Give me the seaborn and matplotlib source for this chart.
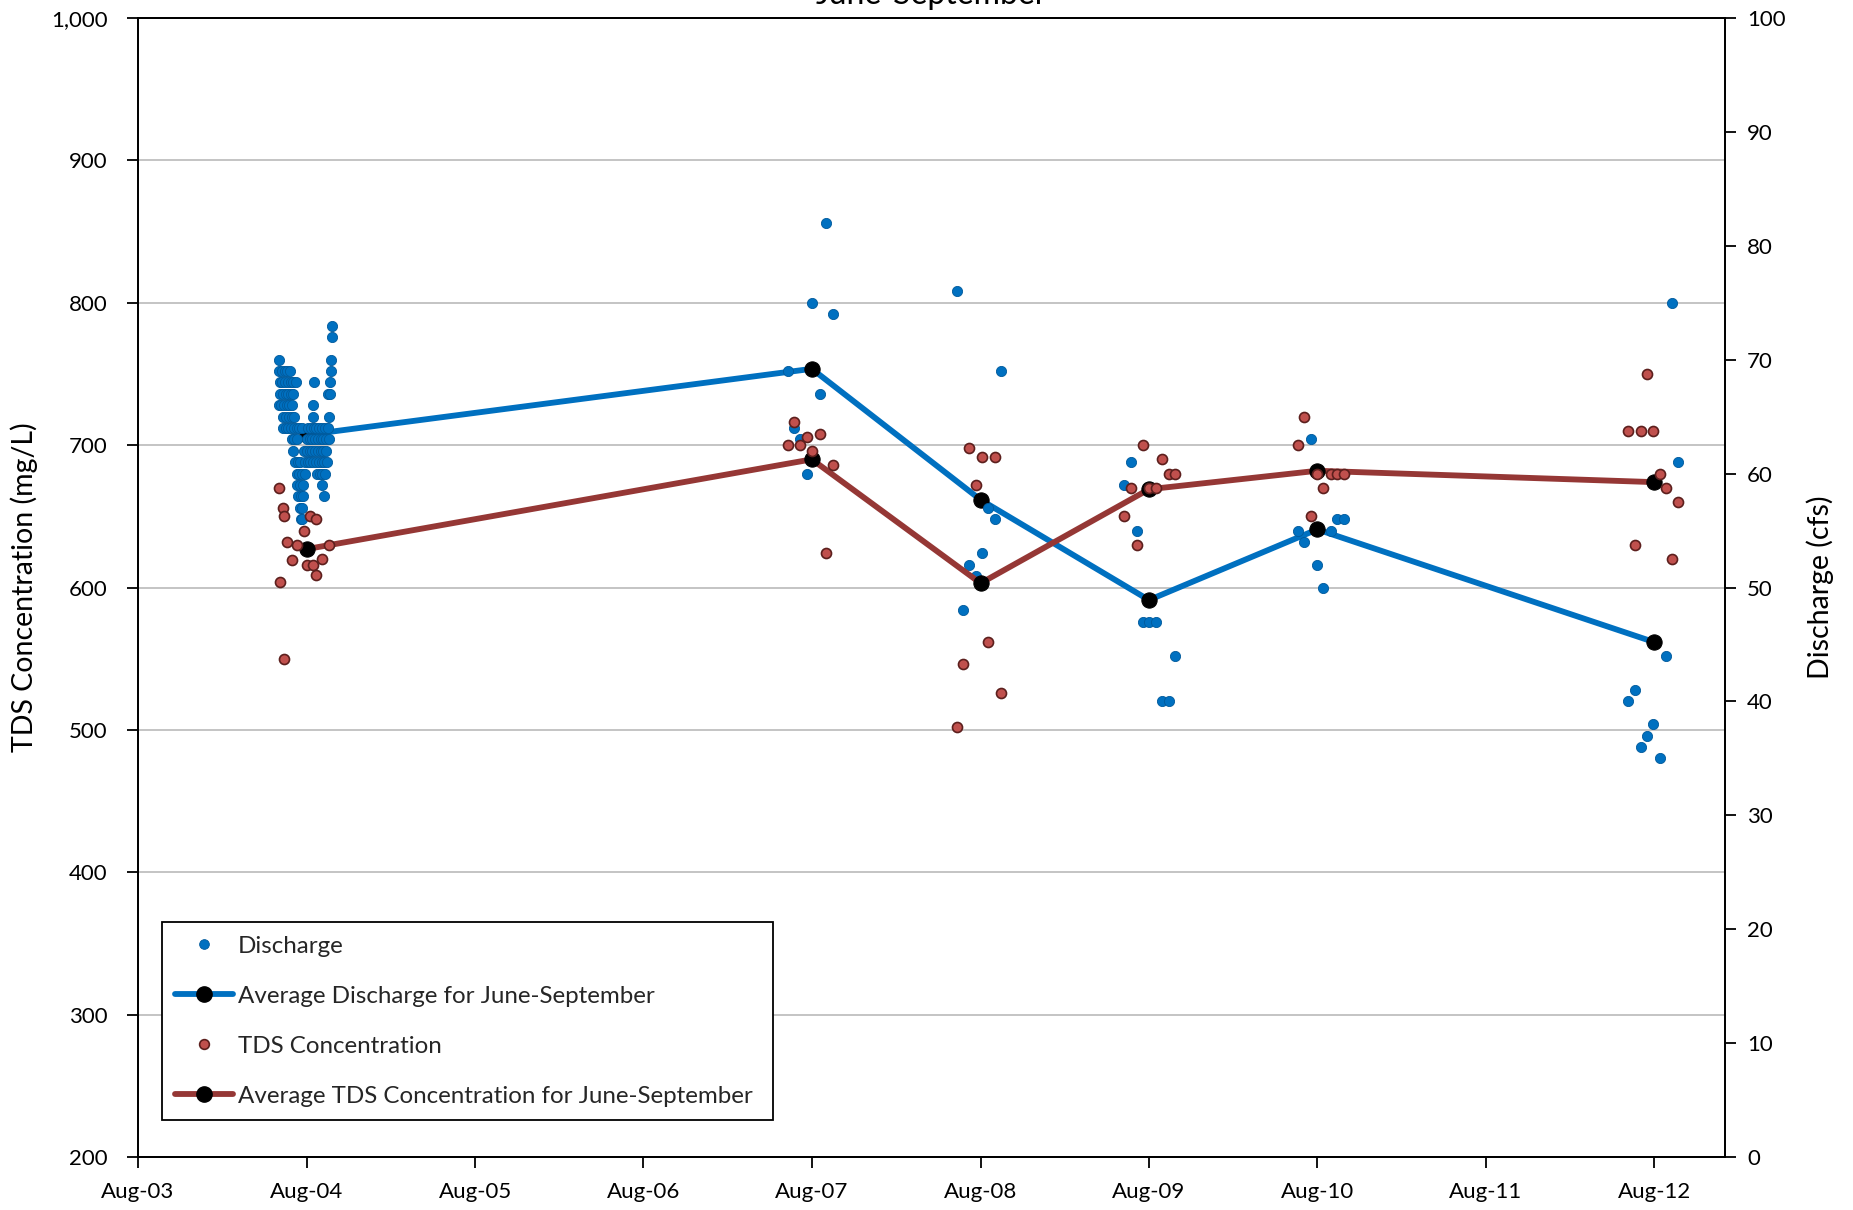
import matplotlib
matplotlib.use("Agg")
import matplotlib.pyplot as plt
import matplotlib.dates as mdates
import matplotlib.ticker as mticker
from matplotlib.lines import Line2D
import pandas as pd
import seaborn as sns

# ---------------------------------------------------------------------------
# 2004 daily discharge record (cfs), June-September
discharge_2004_dates = [
    "2004-06-01",
    "2004-06-02", "2004-06-08", "2004-06-14", "2004-06-20", "2004-06-26",
    "2004-06-03", "2004-06-09", "2004-06-15", "2004-06-21", "2004-06-27", "2004-07-03", "2004-07-08",
    "2004-06-04", "2004-06-10", "2004-06-16", "2004-06-22", "2004-06-28", "2004-07-02",
    "2004-06-01", "2004-06-06", "2004-06-12", "2004-06-18", "2004-06-24", "2004-06-30",
    "2004-06-11", "2004-06-17", "2004-06-23", "2004-06-29", "2004-07-05",
    "2004-06-10", "2004-06-16", "2004-06-22", "2004-06-28", "2004-07-04", "2004-07-10", "2004-07-16", "2004-07-21",
    "2004-06-29", "2004-07-05", "2004-07-11",
    "2004-07-02",
    "2004-07-06", "2004-07-12", "2004-07-17",
    "2004-07-10", "2004-07-16", "2004-07-22", "2004-07-28",
    "2004-07-11", "2004-07-17", "2004-07-24",
    "2004-07-13", "2004-07-19", "2004-07-24",
    "2004-07-17", "2004-07-21",
    "2004-07-19", "2004-07-22",
    "2004-09-25",
    "2004-09-24",
    "2004-09-23",
    "2004-09-22",
    "2004-08-16", "2004-09-21",
    "2004-09-17", "2004-09-21",
    "2004-08-15",
    "2004-08-14", "2004-09-18",
    "2004-08-04", "2004-08-10", "2004-08-16", "2004-08-22", "2004-08-28", "2004-09-03", "2004-09-09", "2004-09-15",
    "2004-08-01", "2004-08-07", "2004-08-13", "2004-08-19", "2004-08-25", "2004-08-31", "2004-09-06", "2004-09-12", "2004-09-18",
    "2004-07-25", "2004-08-01", "2004-08-07", "2004-08-13", "2004-08-19", "2004-08-25", "2004-08-31", "2004-09-06", "2004-09-12",
    "2004-07-28", "2004-08-03", "2004-08-09", "2004-08-15", "2004-08-21", "2004-08-27", "2004-09-02", "2004-09-08", "2004-09-14",
    "2004-08-23", "2004-08-29", "2004-09-04", "2004-09-10",
    "2004-09-04",
    "2004-09-08",
]
discharge_2004_cfs = [
    70,
    69, 69, 69, 69, 69,
    68, 68, 68, 68, 68, 68, 68,
    67, 67, 67, 67, 67, 67,
    66, 66, 66, 66, 66, 66,
    65, 65, 65, 65, 65,
    64, 64, 64, 64, 64, 64, 64, 64,
    63, 63, 63,
    62,
    61, 61, 61,
    60, 60, 60, 60,
    59, 59, 59,
    58, 58, 58,
    57, 57,
    56, 56,
    73,
    72,
    70,
    69,
    68, 68,
    67, 67,
    66,
    65, 65,
    64, 64, 64, 64, 64, 64, 64, 64,
    63, 63, 63, 63, 63, 63, 63, 63, 63,
    62, 62, 62, 62, 62, 62, 62, 62, 62,
    61, 61, 61, 61, 61, 61, 61, 61, 61,
    60, 60, 60, 60,
    59,
    58,
]

# 2004 TDS grab samples (mg/L)
tds_2004_dates = [
    "2004-06-01", "2004-06-11", "2004-06-12", "2004-08-08", "2004-08-20", "2004-07-26",
    "2004-06-20", "2004-07-11", "2004-09-18", "2004-06-29", "2004-09-04", "2004-08-01",
    "2004-08-14", "2004-08-22", "2004-06-03", "2004-06-13",
]
tds_2004_mgl = [
    670, 656, 650, 650, 648, 640,
    632, 630, 630, 619, 620, 616,
    616, 609, 604, 550,
]

# 2007-2012 paired samples: discharge and TDS measured on the same dates
sample_dates = [
    "2007-06-10", "2007-06-23", "2007-07-06", "2007-07-22", "2007-08-02", "2007-08-18", "2007-08-31", "2007-09-15",
    "2008-06-10", "2008-06-23", "2008-07-07", "2008-07-21", "2008-08-04", "2008-08-17", "2008-09-01", "2008-09-14",
    "2009-06-07", "2009-06-23", "2009-07-06", "2009-07-19", "2009-08-02", "2009-08-17", "2009-08-30", "2009-09-13", "2009-09-27",
    "2010-06-21", "2010-07-04", "2010-07-18", "2010-08-01", "2010-08-14", "2010-08-30", "2010-09-13", "2010-09-27",
    "2012-06-05", "2012-06-19", "2012-07-02", "2012-07-16", "2012-07-29", "2012-08-12", "2012-08-26", "2012-09-08", "2012-09-22",
]
sample_cfs = [
    69, 64, 63, 60, 75, 67, 82, 74,
    76, 48, 52, 51, 53, 57, 56, 69,
    59, 61, 55, 47, 47, 47, 40, 40, 44,
    55, 54, 63, 52, 50, 55, 56, 56,
    40, 41, 36, 37, 38, 35, 44, 75, 61,
]
sample_tds = [
    700, 716, 700, 706, 696, 708, 624, 686,
    502, 546, 698, 672, 692, 562, 692, 526,
    650, 670, 630, 700, 670, 670, 690, 680, 680,
    700, 720, 650, 680, 670, 680, 680, 680,
    710, 630, 710, 750, 710, 680, 670, 620, 660,
]

# June-September averages, plotted at Aug 1 of each year
avg_dates = ["2004-08-01", "2007-08-01", "2008-08-01", "2009-08-01", "2010-08-01", "2012-08-01"]
avg_discharge_cfs = [63.4, 69.2, 57.7, 48.9, 55.1, 45.2]
avg_tds_mgl = [627, 690, 603, 669, 682, 674]

# ---------------------------------------------------------------------------
assert len(discharge_2004_dates) == len(discharge_2004_cfs)
assert len(sample_dates) == len(sample_cfs) == len(sample_tds)

discharge = pd.DataFrame({
    "date": pd.to_datetime(discharge_2004_dates + sample_dates),
    "cfs": discharge_2004_cfs + sample_cfs,
})
tds = pd.DataFrame({
    "date": pd.to_datetime(tds_2004_dates + sample_dates),
    "mgl": tds_2004_mgl + sample_tds,
})
avg = pd.DataFrame({
    "date": pd.to_datetime(avg_dates),
    "cfs": avg_discharge_cfs,
    "mgl": avg_tds_mgl,
})

BLUE = "#0070C0"
BLUE_EDGE = "#005A9C"
RED_LINE = "#953735"
RED_DOT = "#C0504D"
RED_EDGE = "#5C1F1D"
GRID = "#BFBFBF"
LINE_W = 4.2
AVG_MS = 11

sns.set_theme(style="white")
plt.rcParams["font.family"] = ["Lato", "DejaVu Sans"]
plt.rcParams["axes.edgecolor"] = "black"

fig = plt.figure(figsize=(18.53, 12.10), dpi=100)
ax = fig.add_axes([0.07447, 0.0438, 0.85645, 0.94132])   # left TDS scale + grid
ax_q = ax.twinx()                                         # right discharge scale
ax_t = ax.twinx()                                         # TDS marks drawn on top

# discharge series
sns.lineplot(data=avg, x="date", y="cfs", ax=ax_q, color=BLUE, linewidth=LINE_W,
             marker="o", markersize=AVG_MS, markerfacecolor="black",
             markeredgecolor="black", zorder=2)
sns.scatterplot(data=discharge, x="date", y="cfs", ax=ax_q, color=BLUE,
                edgecolor=BLUE_EDGE, linewidth=0.6, s=54, zorder=3, legend=False)

# TDS series
sns.lineplot(data=avg, x="date", y="mgl", ax=ax_t, color=RED_LINE, linewidth=LINE_W,
             marker="o", markersize=AVG_MS, markerfacecolor="black",
             markeredgecolor="black", zorder=2)
sns.scatterplot(data=tds, x="date", y="mgl", ax=ax_t, color=RED_DOT,
                edgecolor=RED_EDGE, linewidth=1.2, s=52, zorder=3, legend=False)

# scales
ax.set_ylim(200, 1000)
ax_t.set_ylim(200, 1000)
ax_q.set_ylim(0, 100)
ax.set_xlim(pd.Timestamp("2003-08-01"), pd.Timestamp("2013-01-01"))

ax.yaxis.set_major_locator(mticker.MultipleLocator(100))
ax.yaxis.set_major_formatter(mticker.StrMethodFormatter("{x:,.0f}"))
ax_q.yaxis.set_major_locator(mticker.MultipleLocator(10))
ax.xaxis.set_major_locator(mdates.YearLocator(1, month=8, day=1))
ax.xaxis.set_major_formatter(mdates.DateFormatter("%b-%y"))

ax.yaxis.grid(True, color=GRID, linewidth=1.3)
ax.xaxis.grid(False)
ax.set_axisbelow(True)

ax_t.yaxis.set_visible(False)
for sp in ax_t.spines.values():
    sp.set_visible(False)
for a in (ax, ax_q):
    for sp in a.spines.values():
        sp.set_color("black")
        sp.set_linewidth(1.3)

ax.tick_params(axis="y", direction="out", length=8, width=1.3, pad=14,
               labelsize=16, colors="black", left=True)
ax.tick_params(axis="x", direction="out", length=8, width=1.3, pad=10,
               labelsize=16, colors="black", bottom=True)
ax_q.tick_params(axis="y", direction="out", length=8, width=1.3, pad=8,
                 labelsize=16, colors="black", right=True)

ax.set_xlabel("")
ax_t.set_xlabel("")
ax_q.set_xlabel("")
ax_t.set_ylabel("")
ax.set_ylabel("TDS Concentration (mg/L)", fontsize=20.5, color="black")
ax_q.set_ylabel("Discharge (cfs)", fontsize=20.5, color="black")
ax.yaxis.set_label_coords(-0.063, 0.5)
ax_q.yaxis.set_label_coords(1.051, 0.5)

fig.text(0.5 * (0.07447 * 2 + 0.85645), 0.9967, "June-September",
         ha="center", va="baseline", fontsize=23, color="black")

# legend
handles = [
    Line2D([], [], linestyle="none", marker="o", markersize=7,
           markerfacecolor=BLUE, markeredgecolor=BLUE_EDGE, markeredgewidth=0.6),
    Line2D([], [], color=BLUE, linewidth=LINE_W, marker="o", markersize=AVG_MS,
           markerfacecolor="black", markeredgecolor="black"),
    Line2D([], [], linestyle="none", marker="o", markersize=7,
           markerfacecolor=RED_DOT, markeredgecolor=RED_EDGE, markeredgewidth=1.2),
    Line2D([], [], color=RED_LINE, linewidth=LINE_W, marker="o", markersize=AVG_MS,
           markerfacecolor="black", markeredgecolor="black"),
]
labels = [
    "Discharge",
    "Average Discharge for June-September",
    "TDS Concentration",
    "Average TDS Concentration for June-September",
]
leg = ax_t.legend(handles, labels, loc="lower left",
                  bbox_to_anchor=(0.0151, 0.0325, 0.385, 0.175), mode="expand",
                  borderaxespad=0, fontsize=17.4, frameon=True, fancybox=False,
                  edgecolor="black", framealpha=1, facecolor="white",
                  borderpad=0.55, labelspacing=1.2, handlelength=2.4,
                  handletextpad=0.2, numpoints=1)
leg.get_frame().set_linewidth(1.3)
leg.set_zorder(10)

fig.savefig("out.png", dpi=100)
